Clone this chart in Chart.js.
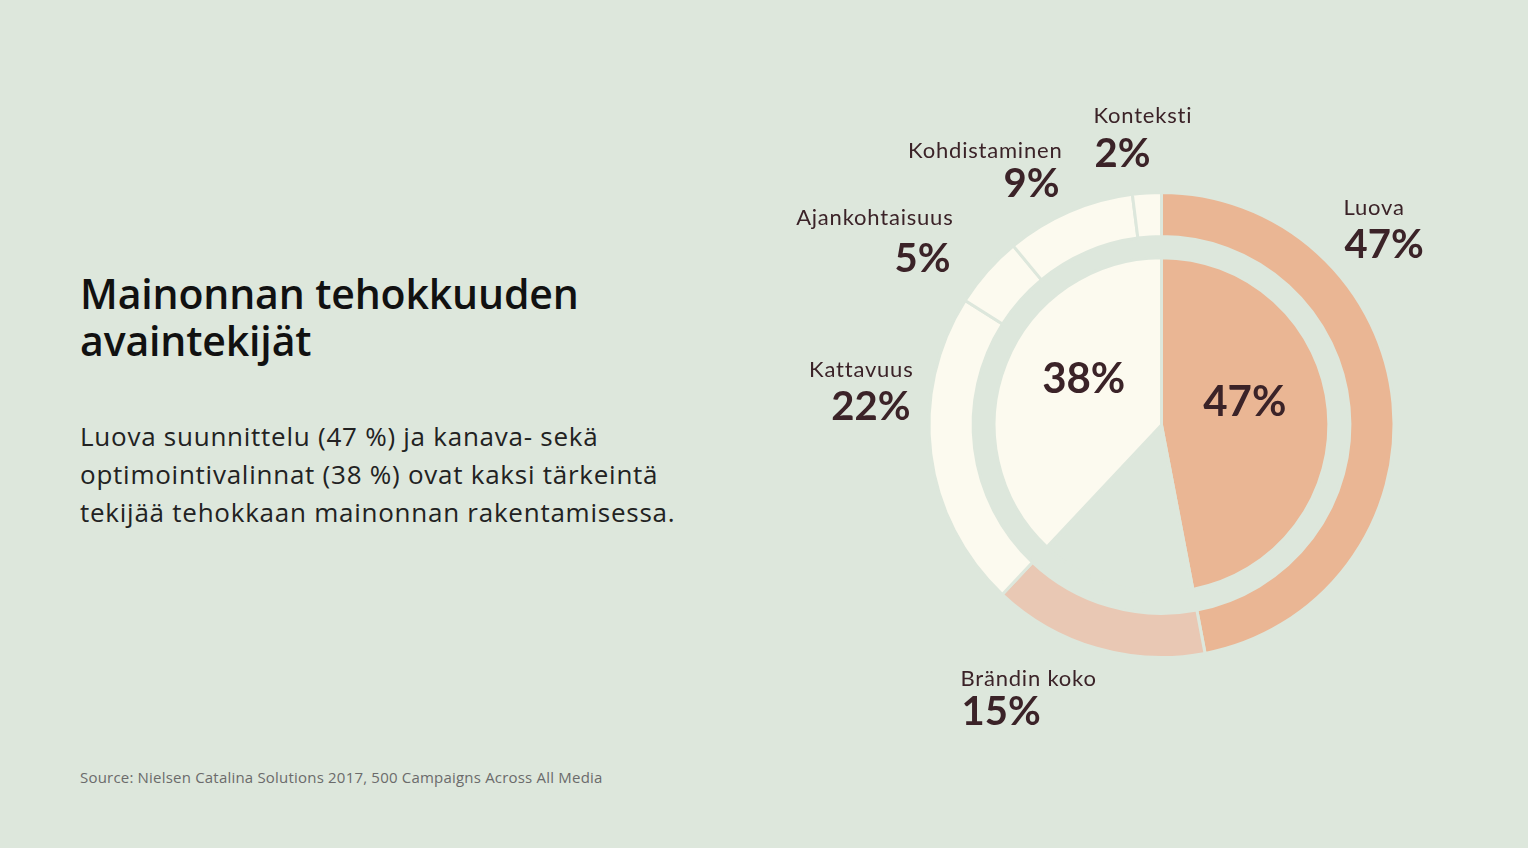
<!DOCTYPE html>
<html lang="fi">
<head>
<meta charset="utf-8">
<title>Mainonnan tehokkuuden avaintekijät</title>
<script src="https://cdn.jsdelivr.net/npm/chart.js@4/dist/chart.umd.min.js"></script>
<style>
  html, body { margin: 0; padding: 0; }
  body {
    width: 1528px; height: 848px; overflow: hidden;
    background: #dde7dc; position: relative;
    font-family: "Open Sans", Lato, sans-serif;
  }
  h1 {
    position: absolute; left: 80px; top: 270px; margin: 0;
    font-size: 41px; font-weight: 600; line-height: 47px; color: #111;
    letter-spacing: -0.15px;
  }
  p.lead {
    position: absolute; left: 80px; top: 417px; margin: 0;
    font-size: 26px; font-weight: 400; line-height: 38px; color: #222;
    letter-spacing: 0.75px;
  }
  p.source {
    position: absolute; left: 80px; top: 767px; margin: 0;
    font-size: 15px; color: #6b6b6b; letter-spacing: 0.2px;
  }
  .chart-box { position: absolute; left: 740px; top: 0; width: 788px; height: 848px; }
</style>
</head>
<body>
<h1>Mainonnan tehokkuuden<br>avaintekijät</h1>
<p class="lead">Luova suunnittelu (47 %) ja kanava- sekä<br>optimointivalinnat (38 %) ovat kaksi tärkeintä<br>tekijää tehokkaan mainonnan rakentamisessa.</p>
<p class="source">Source: Nielsen Catalina Solutions 2017, 500 Campaigns Across All Media</p>
<div class="chart-box"><canvas id="donut"></canvas></div>

<script>
// outer ring: all factors, clockwise from 12 o'clock
const factors = ['Luova', 'Brändin koko', 'Kattavuus', 'Ajankohtaisuus', 'Kohdistaminen', 'Konteksti'];
const factorShares = [47, 15, 22, 5, 9, 2];
const factorColors = ['#eab694', '#e9c8b4', '#fcfaef', '#fcfaef', '#fcfaef', '#fcfaef'];

// inner pie: creative vs. channel/optimisation (middle slice left empty)
const innerLabels = ['Luova', '', 'Kanava ja optimointi'];
const innerShares = [47, 15, 38];
const innerColors = ['#eab694', 'rgba(0,0,0,0)', '#fcfaef'];

const bg = '#dde7dc';
const ink = '#3b2328';

// where each outer label sits, relative to the chart centre: [dx, nameDy, pctDy, align]
const labelLayout = [
  [182, -210, -167, 'left'],
  [-201, 261, 300, 'left'],
  [-248, -48, -5, 'right'],
  [-208, -200, -153, 'right'],
  [-99, -267, -228, 'right'],
  [-68, -302, -258, 'left']
];

const labelPlugin = {
  id: 'sliceLabels',
  afterDatasetsDraw(chart) {
    const ctx = chart.ctx;
    const outer = chart.getDatasetMeta(0).data;
    ctx.save();
    ctx.fillStyle = ink;
    ctx.textBaseline = 'alphabetic';
    outer.forEach((arc, i) => {
      const [dx, ny, py, align] = labelLayout[i];
      ctx.textAlign = align;
      ctx.letterSpacing = '0.8px';
      ctx.font = '400 22px Lato, "Noto Sans", sans-serif';
      ctx.fillText(factors[i], arc.x + dx, arc.y + ny);
      ctx.letterSpacing = '0px';
      ctx.font = '700 40px Lato, "Noto Sans", sans-serif';
      ctx.fillText(factorShares[i] + '%', arc.x + dx + (align === 'right' ? -3 : 1), arc.y + py);
    });
    const inner = chart.getDatasetMeta(2).data;
    ctx.textAlign = 'center';
    ctx.font = '700 42px Lato, "Noto Sans", sans-serif';
    inner.forEach((arc, i) => {
      if (!innerLabels[i]) return;
      const p = arc.tooltipPosition();
      ctx.fillText(innerShares[i] + '%', p.x, p.y - 1);
    });
    ctx.restore();
  }
};

new Chart(document.getElementById('donut'), {
  type: 'doughnut',
  data: {
    labels: factors,
    datasets: [
      {
        data: factorShares,
        backgroundColor: factorColors,
        borderColor: bg,
        borderWidth: 3,
        weight: 44
      },
      {
        // spacer ring between the outer ring and the inner pie
        data: [100],
        backgroundColor: 'rgba(0,0,0,0)',
        borderWidth: 0,
        weight: 21
      },
      {
        data: innerShares,
        backgroundColor: innerColors,
        borderColor: bg,
        borderWidth: 3,
        weight: 167
      }
    ]
  },
  options: {
    responsive: true,
    maintainAspectRatio: false,
    animation: false,
    cutout: 0,
    layout: { padding: { left: 187, right: 132, top: 191, bottom: 189 } },
    plugins: {
      legend: { display: false },
      tooltip: { enabled: false }
    }
  },
  plugins: [labelPlugin]
});
</script>
</body>
</html>
